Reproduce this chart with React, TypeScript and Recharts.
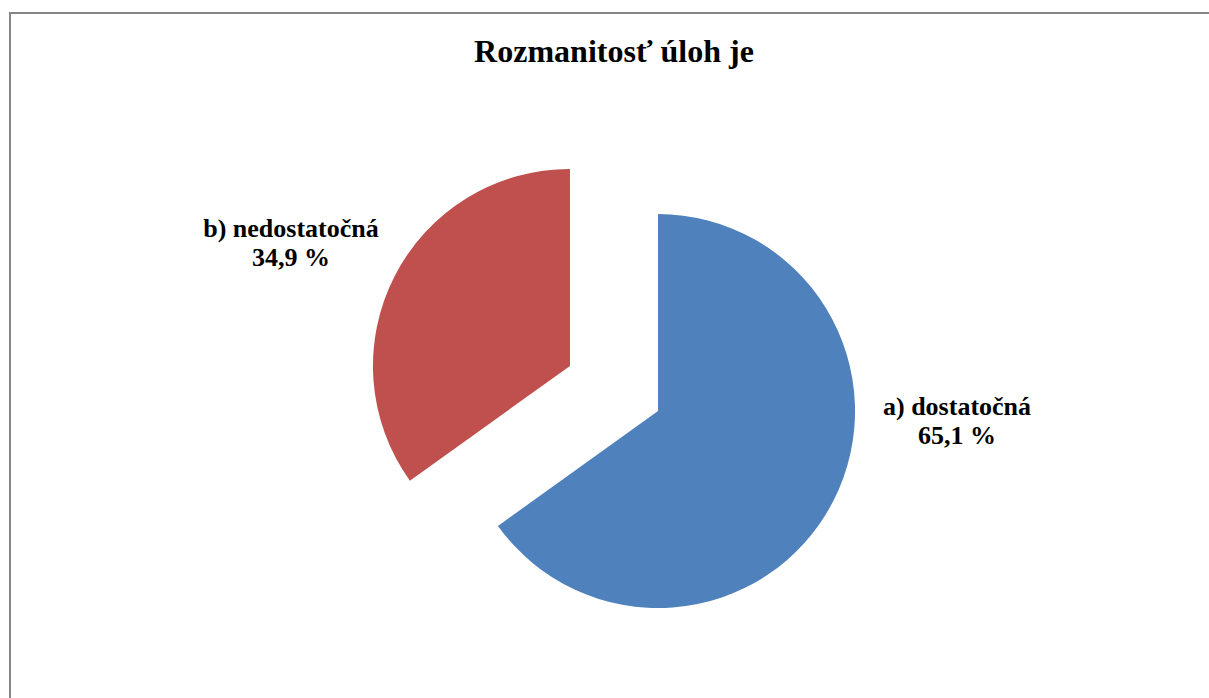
import { PieChart, Pie, Cell } from 'recharts';

const CATEGORIES = ['a) dostatočná', 'b) nedostatočná'];
const VALUES = [65.1, 34.9];
const COLORS = ['#4F81BD', '#C0504D'];

const WIDTH = 1209;
const HEIGHT = 698;
const CENTER = { x: 614, y: 388.5 };
const RADIUS = 197;
const EXPLODE = 49.5;
const FONT = '"Liberation Serif", "Times New Roman", serif';

// label offsets from each slice's own centre (hand-placed like in the original sheet)
const LABEL_OFFSETS = [
  { dx: 299, dy: 4 },
  { dx: -279, dy: -129 },
];

const data = CATEGORIES.map((name, i) => ({ name, value: VALUES[i] }));
const total = VALUES.reduce((s, v) => s + v, 0);

// mid angle of each slice (recharts convention: degrees, counter-clockwise from 3 o'clock)
const midAngles = (() => {
  let start = 90;
  return VALUES.map((v) => {
    const sweep = (v / total) * 360;
    const mid = start - sweep / 2;
    start -= sweep;
    return mid;
  });
})();

const sliceCenter = (i: number) => {
  const rad = (midAngles[i] * Math.PI) / 180;
  return {
    x: CENTER.x + EXPLODE * Math.cos(rad),
    y: CENTER.y - EXPLODE * Math.sin(rad),
  };
};

const fmt = (v: number) => `${v.toFixed(1).replace('.', ',')} %`;

function makeLabel(visibleIndex: number) {
  return (props: any) => {
    const { cx, cy, index } = props;
    if (index !== visibleIndex || typeof cx !== 'number' || typeof cy !== 'number') return null;
    const off = LABEL_OFFSETS[index];
    const x = cx + off.dx;
    const y = cy + off.dy;
    return (
      <text x={x} y={y} textAnchor="middle" fill="#000" fontFamily={FONT} fontWeight="bold" fontSize={26}>
        <tspan x={x} y={y}>{CATEGORIES[index]}</tspan>
        <tspan x={x} y={y + 29}>{fmt(VALUES[index])}</tspan>
      </text>
    );
  };
}

export default function App() {
  return (
    <div style={{ position: 'absolute', left: 0, top: 0, width: WIDTH, height: HEIGHT, background: '#fff', overflow: 'hidden' }}>
      <div
        style={{
          position: 'absolute',
          left: 9,
          top: 12,
          width: 1400,
          height: 900,
          borderTop: '2px solid #868686',
          borderLeft: '2px solid #868686',
        }}
      />
      <div
        style={{
          position: 'absolute',
          left: 0,
          top: 35.2,
          width: 1228,
          textAlign: 'center',
          fontFamily: FONT,
          fontWeight: 'bold',
          fontSize: 32,
          lineHeight: '32px',
          color: '#000',
        }}
      >
        Rozmanitosť úloh je
      </div>
      <div style={{ position: 'absolute', left: 0, top: 0 }}>
        <PieChart width={WIDTH} height={HEIGHT} margin={{ top: 0, right: 0, bottom: 0, left: 0 }}>
          {CATEGORIES.map((_, pieIndex) => {
            const c = sliceCenter(pieIndex);
            return (
              <Pie
                key={`pie-${pieIndex}`}
                data={data}
                dataKey="value"
                nameKey="name"
                cx={c.x}
                cy={c.y}
                outerRadius={RADIUS}
                startAngle={90}
                endAngle={-270}
                stroke="none"
                labelLine={false}
                label={makeLabel(pieIndex)}
                isAnimationActive={false}
              >
                {data.map((_, i) => (
                  <Cell key={`cell-${i}`} fill={i === pieIndex ? COLORS[i] : 'none'} stroke="none" />
                ))}
              </Pie>
            );
          })}
        </PieChart>
      </div>
    </div>
  );
}
